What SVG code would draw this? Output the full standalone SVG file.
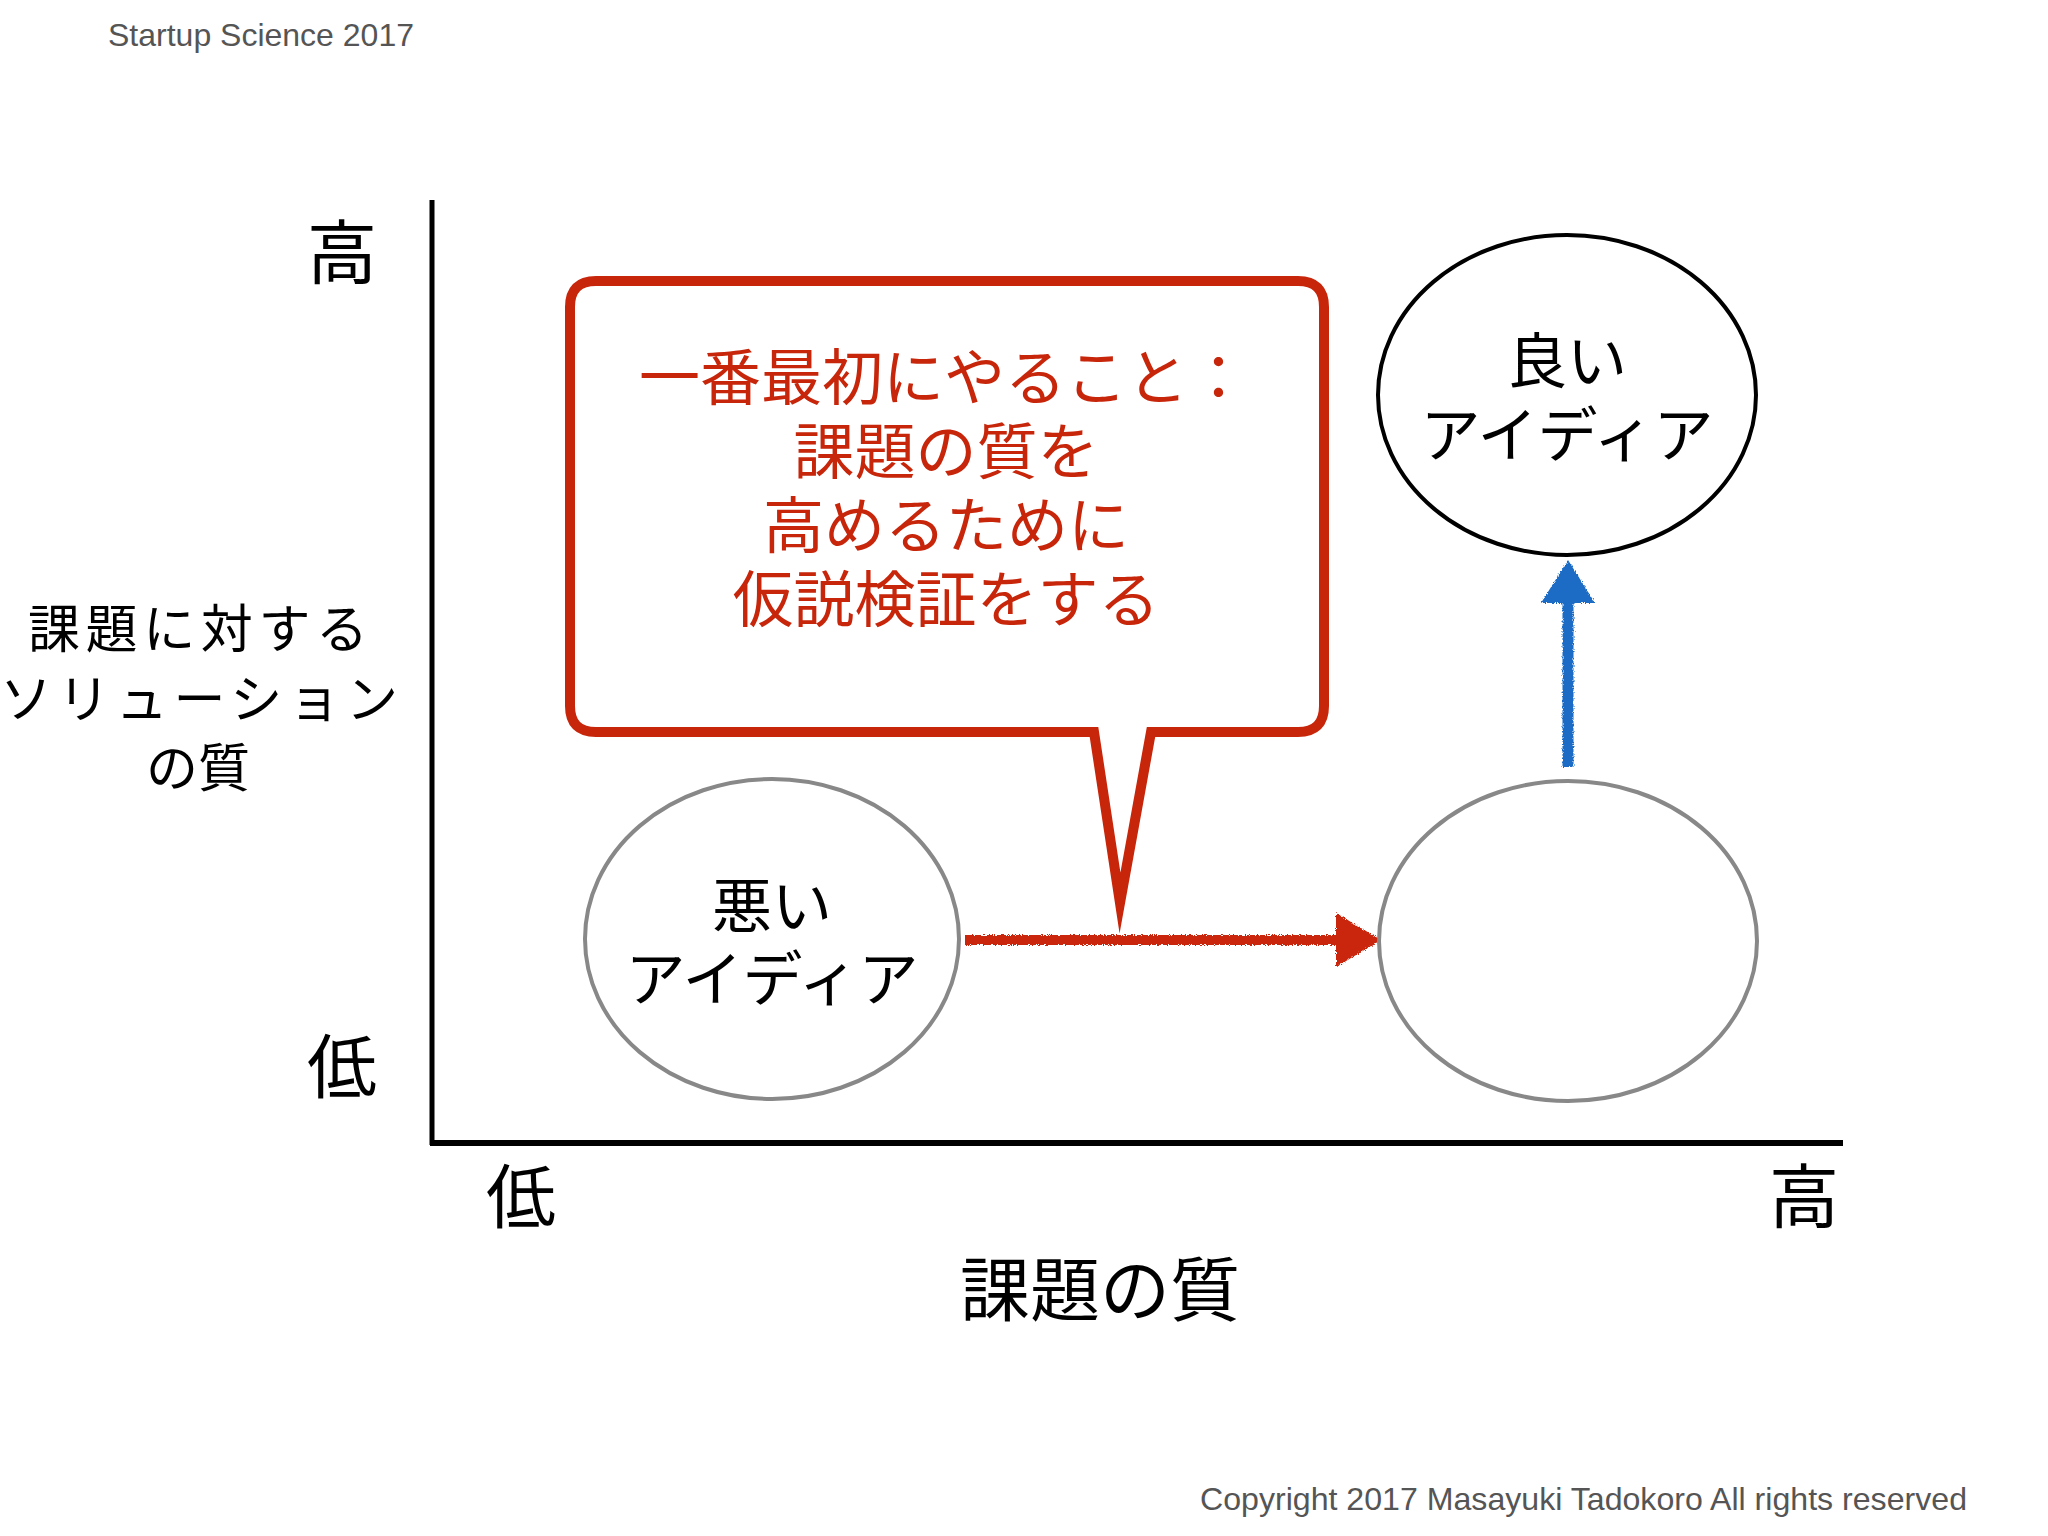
<svg xmlns="http://www.w3.org/2000/svg" width="2048" height="1536" viewBox="0 0 2048 1536">
  <defs>
    <style>
      .jp { font-family: "Noto Sans CJK JP", "Noto Sans", sans-serif; }
      .lat { font-family: "Liberation Sans", Arial, sans-serif; fill: #555555; font-size: 32px; }
      .axislbl { font-size: 70px; fill: #000; }
      .idea { font-size: 60px; fill: #000; text-anchor: middle; }
      .callout-text { font-size: 61px; fill: #C7260B; text-anchor: middle; }
      .ylabel { font-size: 52px; fill: #000; text-anchor: middle; }
      .grayell { fill: #ffffff; stroke: #888888; stroke-width: 4; }
    </style>
    <filter id="rough" filterUnits="userSpaceOnUse" x="0" y="0" width="2048" height="1536">
      <feTurbulence type="fractalNoise" baseFrequency="0.9" numOctaves="2" seed="3" result="n"/>
      <feDisplacementMap in="SourceGraphic" in2="n" scale="4" xChannelSelector="R" yChannelSelector="G"/>
    </filter>
  </defs>

  <rect x="0" y="0" width="2048" height="1536" fill="#ffffff"/>

  <text class="lat" x="108" y="46">Startup Science 2017</text>
  <text class="lat" x="1200" y="1510" textLength="767" lengthAdjust="spacingAndGlyphs">Copyright 2017 Masayuki Tadokoro All rights reserved</text>

  <g id="axes">
    <line x1="432" y1="200" x2="432" y2="1145" stroke="#000" stroke-width="5"/>
    <line x1="430" y1="1143" x2="1843" y2="1143" stroke="#000" stroke-width="6"/>
  </g>

  <g id="axis-labels" class="jp">
    <text class="axislbl" x="342" y="279" text-anchor="middle">高</text>
    <text class="axislbl" x="342" y="1093" text-anchor="middle">低</text>
    <text class="axislbl" x="521" y="1223" text-anchor="middle">低</text>
    <text class="axislbl" x="1804" y="1223" text-anchor="middle">高</text>
    <text class="axislbl" x="1100" y="1316" text-anchor="middle">課題の質</text>
    <text class="ylabel" x="198" y="648" textLength="340" lengthAdjust="spacing">課題に対する</text>
    <text class="ylabel" x="199" y="718" textLength="398" lengthAdjust="spacing">ソリューション</text>
    <text class="ylabel" x="198" y="787">の質</text>
  </g>

  <g id="connectors">
    <g filter="url(#rough)">
      <line x1="965" y1="940" x2="1342" y2="940" stroke="#C9260E" stroke-width="10"/>
      <polygon points="1336,913 1381,940 1336,967" fill="#C9260E"/>
    </g>
    <g filter="url(#rough)">
      <line x1="1568" y1="767" x2="1568" y2="598" stroke="#1A6CC6" stroke-width="11"/>
      <polygon points="1541,603 1568,560 1595,603" fill="#1A6CC6"/>
    </g>
  </g>

  <g id="node-bad-idea" class="jp">
    <ellipse class="grayell" cx="772" cy="939" rx="187" ry="160"/>
    <text class="idea" x="772" y="928">悪い</text>
    <text class="idea" x="772" y="1001">アイディア</text>
  </g>

  <g id="node-empty">
    <ellipse class="grayell" cx="1568" cy="941" rx="189" ry="160"/>
  </g>

  <g id="node-good-idea" class="jp">
    <ellipse cx="1567" cy="395" rx="189" ry="160" fill="#ffffff" stroke="#000" stroke-width="4"/>
    <text class="idea" x="1567" y="383">良い</text>
    <text class="idea" x="1567" y="457">アイディア</text>
  </g>

  <g id="node-callout" class="jp">
    <path d="M 596 281 H 1298 Q 1324 281 1324 307 V 706 Q 1324 732 1298 732 H 1151 L 1120 903 L 1094 732 H 596 Q 570 732 570 706 V 307 Q 570 281 596 281 Z" fill="#ffffff" stroke="#C7260B" stroke-width="10" stroke-linejoin="miter" stroke-miterlimit="8"/>
    <text class="callout-text" x="944" y="400">一番最初にやること：</text>
    <text class="callout-text" x="946" y="474">課題の質を</text>
    <text class="callout-text" x="946" y="548">高めるために</text>
    <text class="callout-text" x="946" y="622">仮説検証をする</text>
  </g>
</svg>
